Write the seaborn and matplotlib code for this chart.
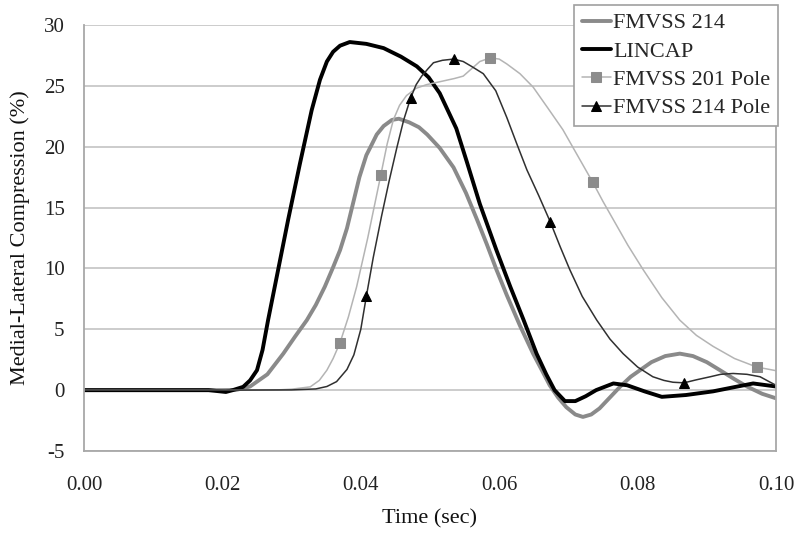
import matplotlib
matplotlib.use("Agg")
import matplotlib.pyplot as plt
import seaborn as sns

# ---- data ----
t_214 = [0, 0.010, 0.020, 0.022, 0.024, 0.0265, 0.0288, 0.0305, 0.0322, 0.0335, 0.0348,
         0.036, 0.037, 0.038, 0.0389, 0.0398, 0.0408, 0.0416, 0.0423, 0.0433, 0.0445,
         0.0455, 0.047, 0.0484, 0.0496, 0.0514, 0.0534, 0.0552, 0.0568, 0.0582, 0.0596,
         0.0611, 0.063, 0.0649, 0.0662, 0.0673, 0.0685, 0.0697, 0.071, 0.0721, 0.0733,
         0.0745, 0.076, 0.0775, 0.079, 0.082, 0.084, 0.0861, 0.088, 0.090, 0.0919,
         0.094, 0.0958, 0.098, 0.1]
v_214 = [0, 0, 0, 0.02, 0.3, 1.3, 3.0, 4.4, 5.75, 7.0, 8.5,
         10.1, 11.5, 13.3, 15.4, 17.5, 19.3, 20.2, 21.0, 21.7, 22.2,
         22.3, 22.0, 21.6, 21.0, 19.9, 18.3, 16.2, 14.0, 12.0, 9.9,
         7.8, 5.3, 3.0, 1.6, 0.4, -0.6, -1.4, -2.0, -2.2, -2.0,
         -1.5, -0.6, 0.3, 1.1, 2.3, 2.8, 3.0, 2.8, 2.3, 1.64,
         0.9, 0.3, -0.3, -0.67]

t_lincap = [0, 0.010, 0.018, 0.0205, 0.0215, 0.023, 0.024, 0.025, 0.0258, 0.0266,
            0.0295, 0.0312, 0.0329, 0.0341, 0.0351, 0.036, 0.037, 0.0384, 0.0408, 0.0433,
            0.0458, 0.0481, 0.0498, 0.0514, 0.0538, 0.0553, 0.0572, 0.0596, 0.0616, 0.0635,
            0.0654, 0.0668, 0.068, 0.0695, 0.071, 0.0725, 0.074, 0.0765, 0.0785, 0.081,
            0.0835, 0.087, 0.0909, 0.094, 0.0967, 0.1]
v_lincap = [0, 0, 0, -0.15, 0, 0.27, 0.8, 1.64, 3.3, 5.75,
            14.0, 18.6, 23.0, 25.5, 27.0, 27.8, 28.3, 28.6, 28.45, 28.1,
            27.4, 26.6, 25.7, 24.4, 21.5, 18.8, 15.3, 11.5, 8.5, 5.8,
            3.0, 1.3, 0.0, -0.9, -0.9, -0.5, 0.0, 0.55, 0.4, -0.1,
            -0.55, -0.4, -0.1, 0.25, 0.55, 0.3]

t_201p = [0, 0.010, 0.020, 0.028, 0.030, 0.0327, 0.034, 0.0351, 0.036, 0.037,
          0.0382, 0.0394, 0.041, 0.0429, 0.0438, 0.0447, 0.0456, 0.0466, 0.048, 0.0495,
          0.0519, 0.0535, 0.0548, 0.056, 0.0572, 0.0587, 0.060, 0.0611, 0.063, 0.0649,
          0.067, 0.0692, 0.0713, 0.0735, 0.075, 0.0765, 0.0786, 0.0808, 0.0835, 0.0861,
          0.0885, 0.0909, 0.094, 0.0972, 0.1]
v_201p = [0, 0, 0, 0.02, 0.08, 0.27, 0.8, 1.64, 2.6, 3.9,
          6.0, 8.5, 12.5, 17.7, 20.2, 22.2, 23.4, 24.2, 24.8, 25.1,
          25.4, 25.6, 25.8, 26.4, 27.0, 27.3, 27.2, 26.8, 26.0, 24.9,
          23.2, 21.4, 19.3, 17.1, 15.5, 14.0, 11.9, 9.9, 7.6, 5.75,
          4.5, 3.6, 2.6, 1.9, 1.6]
marker_t_201p = [0.037, 0.0429, 0.0587, 0.0735, 0.0972]

t_214p = [0, 0.010, 0.020, 0.030, 0.0335, 0.0351, 0.0365, 0.038, 0.039, 0.040,
          0.0408, 0.0418, 0.043, 0.0441, 0.0452, 0.0462, 0.0472, 0.048, 0.0488, 0.0497,
          0.0505, 0.0518, 0.0534, 0.0548, 0.056, 0.0577, 0.0595, 0.0611, 0.0625, 0.064,
          0.0657, 0.0674, 0.0688, 0.0702, 0.072, 0.0741, 0.076, 0.0779, 0.080, 0.0822,
          0.0838, 0.0851, 0.0867, 0.0885, 0.0905, 0.092, 0.0938, 0.0958, 0.0977, 0.099,
          0.1]
v_214p = [0, 0, 0, 0.02, 0.1, 0.3, 0.7, 1.7, 2.9, 5.0,
          7.7, 10.9, 14.3, 17.2, 19.9, 22.2, 24.0, 25.1, 25.8, 26.4,
          26.9, 27.1, 27.2, 27.0, 26.6, 26.0, 24.6, 22.4, 20.3, 18.1,
          16.0, 13.8, 11.8, 9.9, 7.7, 5.75, 4.2, 3.0, 1.9, 1.1,
          0.8, 0.65, 0.6, 0.85, 1.1, 1.3, 1.37, 1.3, 1.1, 0.7,
          0.4]
marker_t_214p = [0.0408, 0.0472, 0.0534, 0.0674, 0.0867]

x_ticks = [0.00, 0.02, 0.04, 0.06, 0.08, 0.10]
x_ticklabels = ["0.00", "0.02", "0.04", "0.06", "0.08", "0.10"]
y_ticks = [-5, 0, 5, 10, 15, 20, 25, 30]

sns.set_theme(style="white")
plt.rcParams["font.family"] = ["Liberation Serif", "DejaVu Serif"]
plt.rcParams["axes.unicode_minus"] = False

fig = plt.figure(figsize=(7.98, 5.38), dpi=100)
ax = fig.add_axes([84 / 798, 1 - 451 / 538, (776 - 84) / 798, (451 - 25) / 538])

for yv in y_ticks:
    ax.axhline(yv, color="#c4c4c4", lw=1.2, zorder=0)

sns.lineplot(x=t_214, y=v_214, ax=ax, color="#8a8a8a", lw=2.8, label="FMVSS 214",
             sort=False, estimator=None)
sns.lineplot(x=t_lincap, y=v_lincap, ax=ax, color="black", lw=2.8, label="LINCAP",
             sort=False, estimator=None)
sns.lineplot(x=t_201p, y=v_201p, ax=ax, color="#b4b4b4", lw=1.1, label="FMVSS 201 Pole",
             sort=False, estimator=None, marker="s", markersize=7,
             markevery=[t_201p.index(m) for m in marker_t_201p],
             markerfacecolor="#8c8c8c", markeredgecolor="#8c8c8c")
sns.lineplot(x=t_214p, y=v_214p, ax=ax, color="#303030", lw=1.1, label="FMVSS 214 Pole",
             sort=False, estimator=None, marker="^", markersize=7,
             markevery=[t_214p.index(m) for m in marker_t_214p],
             markerfacecolor="black", markeredgecolor="black")

ax.set_xlim(0, 0.10)
ax.set_ylim(-5, 30)
ax.set_xticks(x_ticks)
ax.set_xticklabels(x_ticklabels)
ax.set_yticks(y_ticks)
ax.tick_params(axis="both", which="major", direction="out", length=6, width=1,
               color="#9a9a9a", labelsize=15, labelcolor="#222222")
ax.tick_params(axis="x", pad=12)
ax.tick_params(axis="y", pad=8)
for side in ["left", "bottom", "right"]:
    ax.spines[side].set_visible(True)
    ax.spines[side].set_color("#a8a8a8")
    ax.spines[side].set_linewidth(1.3)
ax.spines["top"].set_visible(False)

ax.set_xlabel("Time (sec)", fontsize=16, labelpad=10, color="#111111")
ax.set_ylabel("Medial-Lateral Compression (%)", fontsize=16, labelpad=10, color="#111111")

leg = ax.legend(loc="upper right", bbox_to_anchor=(778 / 798, 1 - 5 / 538),
                bbox_transform=fig.transFigure, fontsize=16, frameon=True,
                fancybox=False, edgecolor="#a0a0a0", framealpha=1, borderaxespad=0,
                handlelength=1.3, handletextpad=0.1, labelspacing=0.35,
                borderpad=0.35)
leg.get_frame().set_linewidth(1.2)

fig.savefig("out.png", dpi=100)
